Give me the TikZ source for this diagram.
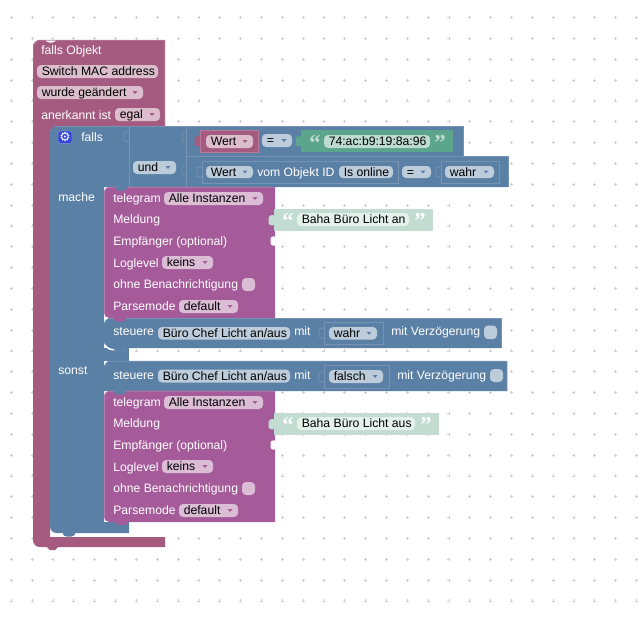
\documentclass[tikz,border=0pt]{standalone}
\usepackage{fontspec}
\setmainfont{Liberation Sans}
\newfontfamily\quotefont{Liberation Serif}
\newfontfamily\gearfont{DejaVu Sans}
\definecolor{hatC}{HTML}{A55B80}
\definecolor{telC}{HTML}{A55B99}
\definecolor{bluC}{HTML}{5B80A5}
\definecolor{grnC}{HTML}{5BA58C}
\definecolor{palC}{HTML}{C2DCD2}
\definecolor{hatP}{HTML}{DBBDCC}
\definecolor{telP}{HTML}{DBBDD6}
\definecolor{bluP}{HTML}{BDCCDB}
\definecolor{grnP}{HTML}{BDDBD1}
\definecolor{palP}{HTML}{E5F1ED}
\definecolor{bluL}{HTML}{7693B3}
\definecolor{hatL}{HTML}{B87A99}
\definecolor{telL}{HTML}{B87AAD}
\definecolor{gridC}{HTML}{CFCFCF}
\definecolor{gearC}{HTML}{3548D4}
\tikzset{
  x=0.75pt,y=-0.75pt,
  blocktext/.style={anchor=mid west,inner sep=0pt,yshift=-0.6pt,font=\fontsize{9.15pt}{11pt}\selectfont,text=white},
  pilltext/.style={anchor=mid west,inner sep=0pt,yshift=-0.6pt,font=\fontsize{9.15pt}{11pt}\selectfont,text=black},
  quotemark/.style={anchor=mid west,inner sep=0pt,font=\fontsize{17pt}{17pt}\selectfont\quotefont\bfseries},
  pillbox/.style={rounded corners=3pt},
  edgeline/.style={draw=bluL,line width=0.55pt},
}
% name, x1,y1,x2,y2, fill, text
\newcommand\pill[7]{\fill[pillbox,#6] (#2,#3) rectangle (#4,#5);
  \node[pilltext] (#1) at ({#2+4.5},{(#3+#5)/2}) {#7};}
% name,x1,y1,x2,y2,fill,text,arrow colour
\newcommand\ddpill[8]{\pill{#1}{#2}{#3}{#4}{#5}{#6}{#7}
  \fill[#8] ({#4-10.5},{(#3+#5)/2-1.5}) -- ({#4-5.5},{(#3+#5)/2-1.5}) -- ({#4-8},{(#3+#5)/2+1.5}) -- cycle;}
\newcommand\lbl[4]{\node[blocktext] (#1) at (#2,#3) {#4};}
% statement connector bump hanging down from y at x
\newcommand\bump[3]{\fill[#3,rounded corners=1pt] (#1,#2) -- ({#1+3},{#2+3.5}) -- ({#1+11},{#2+3.5}) -- ({#1+14},#2) -- cycle;}
% value tab pointing left; x = block's left edge, y = centre
\newcommand\tab[3]{\fill[#3,rounded corners=1.2pt] ({#1+0.5},{#2-5.5}) -- ({#1-5.5},{#2-4}) -- ({#1-5.5},{#2+5}) -- ({#1+0.5},{#2+5.5}) -- cycle;}
% input socket outline; x = right edge of socket, y = centre
\newcommand\socket[2]{\draw[edgeline,rounded corners=0.8pt] (#1,{#2-5.5}) -- ({#1-5},{#2-4}) -- ({#1-5},{#2+4}) -- (#1,{#2+5.5});}
% telegram block: top y, name prefix, text-block right, pill right, text
\newcommand\telegram[5]{%
  \fill[telC] (190,#1) -- (275,#1) -- (275,{#1+131}) [rounded corners=4pt] -- (104,{#1+131}) -- (104,#1) -- cycle;
  \draw[telL,line width=0.5pt] (104.5,{#1+126}) -- (104.5,{#1+4}) -- (108,{#1+0.3}) -- (274.7,{#1+0.3});
  \lbl{#2a}{113}{#1+11}{telegram}
  \ddpill{#2b}{164}{#1+5}{263}{#1+18}{telP}{Alle Instanzen}{telC}
  \lbl{#2c}{113}{#1+32}{Meldung}
  \fill[palC] (274,#1+22) rectangle (#3,#1+44);
  \tab{274}{#1+33}{palC}
  \node[quotemark,text=white] (#2q) at (282,#1+38) {“};
  \pill{#2d}{297}{#1+26}{#4}{#1+39}{palP}{#5}
  \node[quotemark,text=white] (#2r) at ({#4+5},#1+38) {”};
  \lbl{#2e}{113}{#1+54}{Empfänger (optional)}
  \fill[white,rounded corners=1pt] (275.5,#1+49) -- (270.5,#1+50) -- (270.5,#1+58) -- (275.5,#1+59) -- cycle;
  \lbl{#2f}{113}{#1+76}{Loglevel}
  \ddpill{#2g}{162}{#1+69}{213}{#1+82}{telP}{keins}{telC}
  \lbl{#2h}{113}{#1+97.5}{ohne Benachrichtigung}
  \fill[pillbox,telP] (242,#1+91) rectangle (255,#1+104);
  \lbl{#2i}{113}{#1+119}{Parsemode}
  \ddpill{#2j}{179}{#1+113}{238}{#1+126}{telP}{default}{telC}
}
\begin{document}
\begin{tikzpicture}
\useasboundingbox (0,0) rectangle (639,618);
\fill[white] (0,0) rectangle (639,618);
% grid
\foreach \i in {0,...,30}{\foreach \j in {0,...,28}{
  \draw[gridC,line width=0.5pt] ({11.3+20.84*\i-1.5},{17.6+20.83*\j}) -- ({11.3+20.84*\i+1.5},{17.6+20.83*\j})
     ({11.3+20.84*\i},{17.6+20.83*\j-1.5}) -- ({11.3+20.84*\i},{17.6+20.83*\j+1.5});}}
% outer hat block
\fill[hatC] (100,40) -- (165,40) -- (165,130) -- (50,130) -- (50,537) -- (165,537) -- (165,547) -- (58,547) -- (55,550) -- (50,550) -- (47,547) [rounded corners=5pt] -- (33,547) -- (33,40) -- cycle;
\fill[white,rounded corners=1pt] (45,39.5) -- (47.5,42.5) -- (54,42.5) -- (56.5,39.5) -- cycle;
\draw[hatL,line width=0.5pt] (33.4,60) -- (33.4,45) -- (38,40.3) -- (164.7,40.3) -- (164.7,126);
\lbl{fo}{41}{50}{falls Objekt}
\pill{mac}{37}{65}{158}{78}{hatP}{Switch MAC address}
\ddpill{chg}{37}{86}{143}{99}{hatP}{wurde geändert}{hatC}
\lbl{ack}{41}{115}{anerkannt ist}
\ddpill{egal}{115}{108}{160}{121}{hatP}{egal}{hatC}
% falls block
\fill[bluC] (300,126) -- (463,126) -- (463,156) -- (508,156) -- (508,187) -- (104,187) -- (104,522) -- (129,522) -- (129,533) [rounded corners=5pt] -- (50,533) -- (50,126) -- cycle;
\fill[bluC] (104,348) rectangle (129,361);
\bump{62}{533}{bluC}
\draw[edgeline] (55,126.3) -- (463,126.3) -- (463,156) -- (508,156) -- (508,187);
\draw[edgeline] (129.5,126) -- (129.5,187);
\draw[edgeline] (186.5,126) -- (186.5,187);
\draw[edgeline] (187,156.5) -- (463,156.5);
\socket{129}{137}
\socket{187}{137}
\socket{187}{170}
% gear
\draw[fill=gearC,draw=gearC!70!white,line width=0.5pt,rounded corners=2pt] (58,131) rectangle (72,143.5);
\node[inner sep=0pt,text=white,font=\fontsize{9.5pt}{9.5pt}\gearfont] (gear) at (65,137) {⚙};
\lbl{fl}{81}{137}{falls}
\lbl{mc}{58}{197}{mache}
\lbl{so}{58}{370}{sonst}
\ddpill{und}{133}{161}{176}{174}{bluP}{und}{bluC}
% row 1
\fill[hatC] (200,130) rectangle (259,152.5);
\tab{200}{141}{hatC}
\draw[hatL,line width=0.5pt] (200.3,152) -- (200.3,130.3) -- (258.7,130.3) -- (258.7,152) -- cycle;
\ddpill{w1}{206}{135}{253}{148}{hatP}{Wert}{hatC}
\ddpill{eq1}{262}{134}{292}{147}{bluP}{=}{bluC}
\fill[grnC] (301,130) rectangle (453,152);
\tab{301}{141}{grnC}
\node[quotemark,text=palC] (q1) at (309,147) {“};
\pill{mac2}{324}{135}{430}{148}{grnP}{74:ac:b9:19:8a:96}
\node[quotemark,text=palC] (q2) at (434,147) {”};
% row 2
\draw[edgeline] (202,161) rectangle (398,183);
\socket{202}{172}
\ddpill{w2}{206}{166}{253}{178}{bluP}{Wert}{bluC}
\lbl{vom}{257}{172}{vom Objekt ID}
\pill{onl}{339}{166}{393}{178}{bluP}{Is online}
\ddpill{eq2}{402}{166}{431}{178}{bluP}{=}{bluC}
\draw[edgeline] (441,161) rectangle (499,183);
\socket{441}{172}
\ddpill{wa1}{445}{166}{494}{178}{bluP}{wahr}{bluC}
% upper telegram
\telegram{187}{t}{433}{409}{Baha Büro Licht an}
\bump{114}{187}{bluC}
% steuere 1
\fill[bluC] (300,318) -- (501,318) -- (501,348) [rounded corners=5pt] -- (104,348) -- (104,318) -- cycle;
\draw[edgeline] (108,318.3) -- (501,318.3) -- (501,348);
\draw[white,line width=1.1pt,line cap=round,rounded corners=3pt] (105,345) -- (108,349.5) -- (125,350);
\bump{113}{318}{telC}
\lbl{s1}{113}{331.5}{steuere}
\pill{s1a}{158}{327}{290}{339.5}{bluP}{Büro Chef Licht an/aus}
\lbl{s1b}{294}{331.5}{mit}
\draw[edgeline] (324,322) rectangle (383,344);
\socket{324}{333}
\ddpill{s1c}{329}{327}{377}{339.5}{bluP}{wahr}{bluC}
\lbl{s1d}{391}{331.5}{mit Verzögerung}
\fill[pillbox,bluP] (484,325.5) rectangle (497,339);
\bump{113}{348}{bluC}
% steuere 2
\fill[bluC] (300,361) -- (507,361) -- (507,391) -- (104,391) [rounded corners=5pt] -- (104,361) -- cycle;
\draw[edgeline] (104.3,366) -- (108,361.3) -- (507,361.3) -- (507,391);
\lbl{s2}{113}{375.5}{steuere}
\pill{s2a}{158}{369.5}{290}{382.5}{bluP}{Büro Chef Licht an/aus}
\lbl{s2b}{294}{375.5}{mit}
\draw[edgeline] (324,365.5) rectangle (389,388);
\socket{324}{377}
\ddpill{s2c}{329}{370}{383}{383}{bluP}{falsch}{bluC}
\lbl{s2d}{397}{375.5}{mit Verzögerung}
\fill[pillbox,bluP] (490,369) rectangle (503,382);
% lower telegram
\telegram{391}{u}{439}{415}{Baha Büro Licht aus}
\bump{113}{391}{bluC}
\bump{115}{521.5}{telC}
\end{tikzpicture}
\end{document}
